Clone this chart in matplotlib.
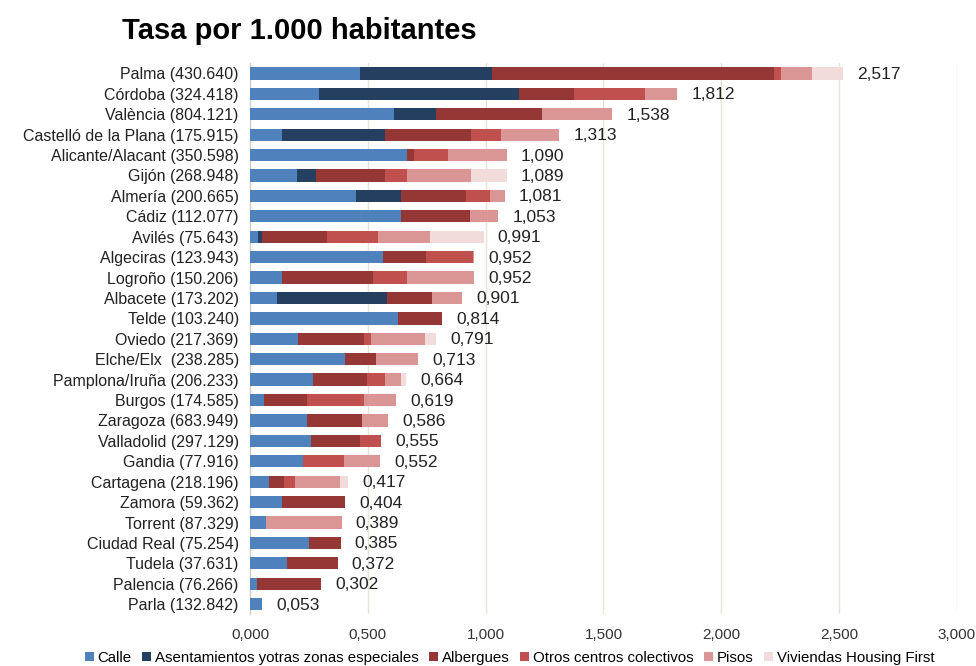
import numpy as np
import matplotlib
matplotlib.use("Agg")
import matplotlib.pyplot as plt
from matplotlib.ticker import FuncFormatter, MultipleLocator

# -------------------------
# DATA (tasa por 1.000 habitantes)
# -------------------------
ciudades = [
    "Palma (430.640)", "Córdoba (324.418)", "València (804.121)",
    "Castelló de la Plana (175.915)", "Alicante/Alacant (350.598)",
    "Gijón (268.948)", "Almería (200.665)", "Cádiz (112.077)",
    "Avilés (75.643)", "Algeciras (123.943)", "Logroño (150.206)",
    "Albacete (173.202)", "Telde (103.240)", "Oviedo (217.369)",
    "Elche/Elx  (238.285)", "Pamplona/Iruña (206.233)", "Burgos (174.585)",
    "Zaragoza (683.949)", "Valladolid (297.129)", "Gandia (77.916)",
    "Cartagena (218.196)", "Zamora (59.362)", "Torrent (87.329)",
    "Ciudad Real (75.254)", "Tudela (37.631)", "Palencia (76.266)",
    "Parla (132.842)",
]
calle = [0.465, 0.291, 0.613, 0.138, 0.667, 0.199, 0.451, 0.643, 0.035,
         0.565, 0.138, 0.113, 0.627, 0.203, 0.404, 0.267, 0.061, 0.244,
         0.260, 0.227, 0.082, 0.138, 0.068, 0.252, 0.159, 0.028, 0.053]
asentamientos = [0.563, 0.851, 0.177, 0.436, 0.000, 0.082, 0.192, 0.000, 0.017,
                 0.000, 0.000, 0.469, 0.000, 0.000, 0.000, 0.000, 0.000, 0.000,
                 0.000, 0.000, 0.000, 0.000, 0.000, 0.000, 0.000, 0.000, 0.000]
albergues = [1.196, 0.231, 0.451, 0.362, 0.031, 0.293, 0.275, 0.290, 0.274,
             0.184, 0.383, 0.191, 0.187, 0.279, 0.131, 0.229, 0.183, 0.231,
             0.205, 0.000, 0.063, 0.266, 0.000, 0.133, 0.213, 0.274, 0.000]
otros = [0.031, 0.305, 0.000, 0.129, 0.143, 0.093, 0.100, 0.000, 0.216,
         0.199, 0.146, 0.000, 0.000, 0.032, 0.000, 0.078, 0.238, 0.000,
         0.090, 0.170, 0.046, 0.000, 0.000, 0.000, 0.000, 0.000, 0.000]
pisos = [0.131, 0.134, 0.297, 0.248, 0.249, 0.269, 0.063, 0.120, 0.224,
         0.004, 0.285, 0.128, 0.000, 0.228, 0.178, 0.069, 0.137, 0.111,
         0.000, 0.155, 0.189, 0.000, 0.321, 0.000, 0.000, 0.000, 0.000]
housing_first = [0.131, 0.000, 0.000, 0.000, 0.000, 0.153, 0.000, 0.000, 0.225,
                 0.000, 0.000, 0.000, 0.000, 0.049, 0.000, 0.021, 0.000, 0.000,
                 0.000, 0.000, 0.037, 0.000, 0.000, 0.000, 0.000, 0.000, 0.000]
totales = [2.517, 1.812, 1.538, 1.313, 1.090, 1.089, 1.081, 1.053, 0.991,
           0.952, 0.952, 0.901, 0.814, 0.791, 0.713, 0.664, 0.619, 0.586,
           0.555, 0.552, 0.417, 0.404, 0.389, 0.385, 0.372, 0.302, 0.053]

series = [
    ("Calle", calle, "#4F81BD"),
    ("Asentamientos yotras zonas especiales", asentamientos, "#243F60"),
    ("Albergues", albergues, "#953735"),
    ("Otros centros colectivos", otros, "#C0504D"),
    ("Pisos", pisos, "#D99694"),
    ("Viviendas Housing First", housing_first, "#F2DCDB"),
]

# -------------------------
# PLOT
# -------------------------
plt.rcParams["font.family"] = ["Liberation Sans", "DejaVu Sans"]

fig = plt.figure(figsize=(9.76, 6.66), dpi=100)
ax = fig.add_axes([0.2561, 0.0775, 0.7244, 0.8276])

y = np.arange(len(ciudades))
left = np.zeros(len(ciudades))
for name, vals, color in series:
    vals = np.array(vals)
    ax.barh(y, vals, left=left, height=0.6, color=color, label=name, zorder=3)
    left += vals

for yi, tot in zip(y, totales):
    ax.text(tot + 0.06, yi + 0.05, f"{tot:.3f}".replace(".", ","), va="center",
            ha="left", fontsize=12.5, color="#222222")

ax.set_yticks(y)
ax.set_yticklabels(ciudades, fontsize=11.5, color="#222222")
ax.set_ylim(len(ciudades) - 0.5, -0.5)
ax.set_xlim(0, 3.0)
ax.xaxis.set_major_locator(MultipleLocator(0.5))
ax.xaxis.set_major_formatter(FuncFormatter(lambda v, p: f"{v:.3f}".replace(".", ",")))
ax.tick_params(axis="x", labelsize=11, colors="#333333", length=0, pad=10)
ax.tick_params(axis="y", length=0, pad=8)
ax.grid(axis="x", color="#E8E3D5", linewidth=1, zorder=0)

for s in ["top", "right", "bottom"]:
    ax.spines[s].set_visible(False)
ax.spines["left"].set_color("#C8C8C8")

fig.text(0.125, 0.953, "Tasa por 1.000 habitantes", fontsize=21,
         fontweight="bold", va="center", ha="left")

fig.legend(loc="center", bbox_to_anchor=(0.522, 0.012), ncol=6, frameon=False,
           fontsize=10.8, handlelength=0.6, handleheight=0.6, handletextpad=0.25,
           columnspacing=0.7, borderaxespad=0)

plt.savefig("out.png", dpi=100)
